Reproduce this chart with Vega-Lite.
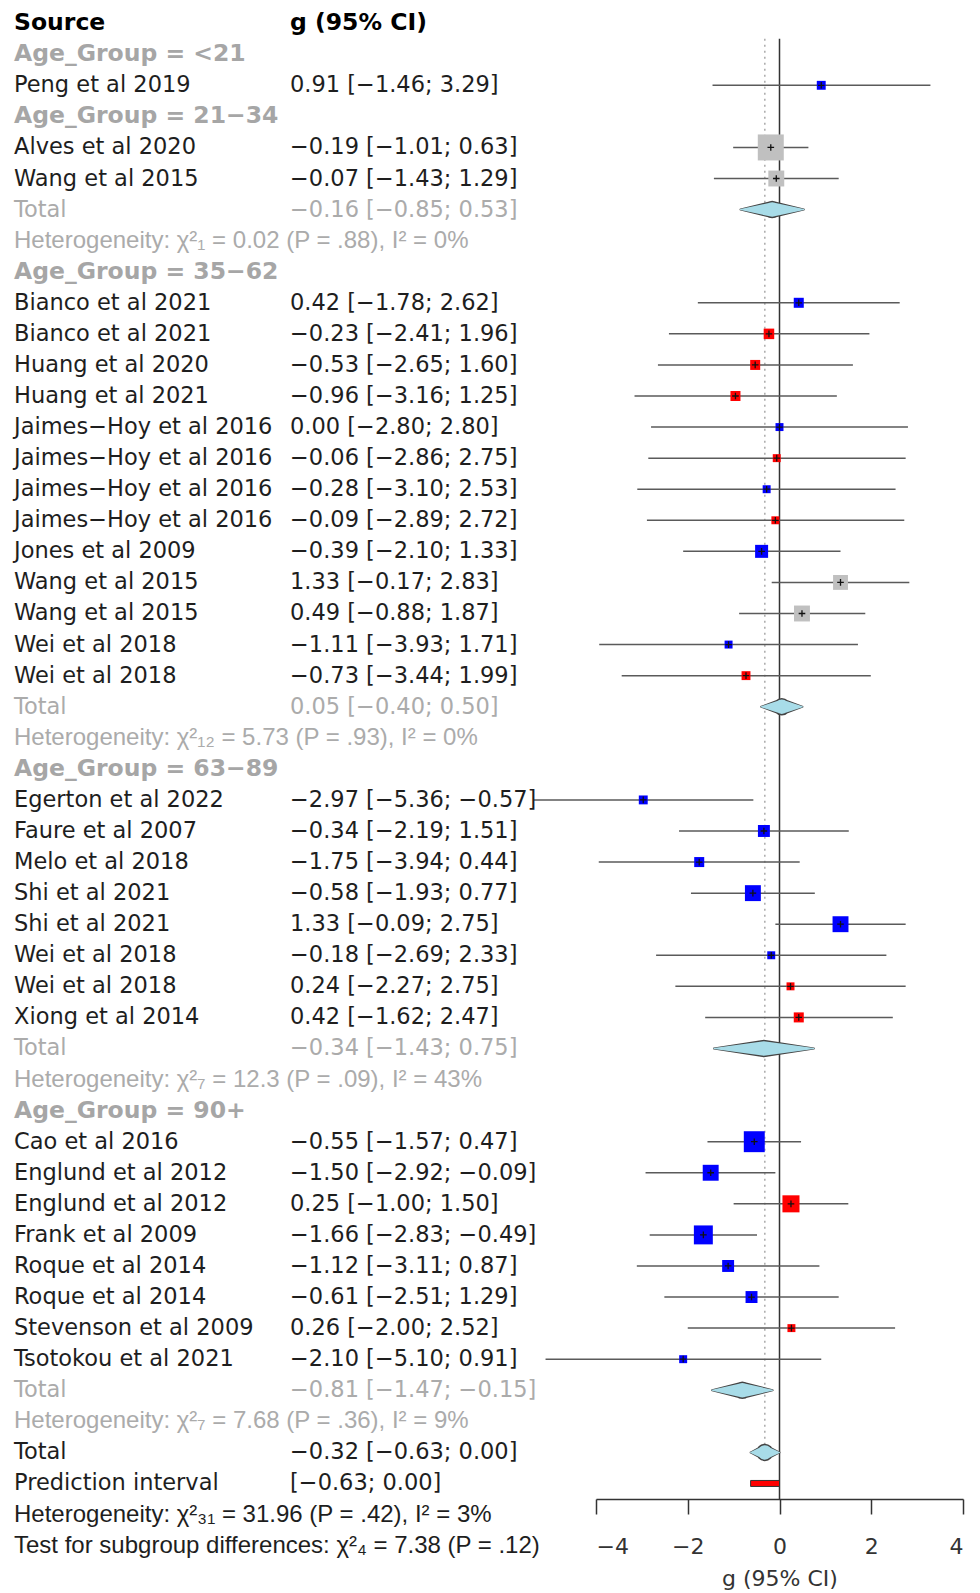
{
  "$schema": "https://vega.github.io/schema/vega-lite/v6.json",
  "autosize": {"type": "none"},
  "padding": {"left": 596, "top": 38.7, "right": 17, "bottom": 94},
  "width": 367,
  "height": 1460.3,
  "background": "white",
  "config": {"view": {"stroke": null}, "font": "DejaVu Sans"},
  "data": {"values": [
    {"row": 0, "name": "Source", "ci": "g (95% CI)", "kind": "head"},
    {"row": 1, "name": "Age_Group = <21", "ci": "", "kind": "group"},
    {"row": 2, "name": "Peng et al 2019", "ci": "0.91 [−1.46; 3.29]", "kind": "study", "est": 0.91, "lo": -1.46, "hi": 3.29, "w": 1.5, "set": "a"},
    {"row": 3, "name": "Age_Group = 21−34", "ci": "", "kind": "group"},
    {"row": 4, "name": "Alves et al 2020", "ci": "−0.19 [−1.01; 0.63]", "kind": "study", "est": -0.19, "lo": -1.01, "hi": 0.63, "w": 12.8, "set": "c"},
    {"row": 5, "name": "Wang et al 2015", "ci": "−0.07 [−1.43; 1.29]", "kind": "study", "est": -0.07, "lo": -1.43, "hi": 1.29, "w": 4.8, "set": "c"},
    {"row": 6, "name": "Total", "ci": "−0.16 [−0.85; 0.53]", "kind": "sub", "est": -0.16, "lo": -0.85, "hi": 0.53},
    {"row": 7, "name": "Heterogeneity: χ²₁ = 0.02 (P = .88), I² = 0%", "ci": "", "kind": "het"},
    {"row": 8, "name": "Age_Group = 35−62", "ci": "", "kind": "group"},
    {"row": 9, "name": "Bianco et al 2021", "ci": "0.42 [−1.78; 2.62]", "kind": "study", "est": 0.42, "lo": -1.78, "hi": 2.62, "w": 1.9, "set": "a"},
    {"row": 10, "name": "Bianco et al 2021", "ci": "−0.23 [−2.41; 1.96]", "kind": "study", "est": -0.23, "lo": -2.41, "hi": 1.96, "w": 2.1, "set": "b"},
    {"row": 11, "name": "Huang et al 2020", "ci": "−0.53 [−2.65; 1.60]", "kind": "study", "est": -0.53, "lo": -2.65, "hi": 1.6, "w": 1.9, "set": "b"},
    {"row": 12, "name": "Huang et al 2021", "ci": "−0.96 [−3.16; 1.25]", "kind": "study", "est": -0.96, "lo": -3.16, "hi": 1.25, "w": 1.9, "set": "b"},
    {"row": 13, "name": "Jaimes−Hoy et al 2016", "ci": "0.00 [−2.80; 2.80]", "kind": "study", "est": 0.0, "lo": -2.8, "hi": 2.8, "w": 1.2, "set": "a"},
    {"row": 14, "name": "Jaimes−Hoy et al 2016", "ci": "−0.06 [−2.86; 2.75]", "kind": "study", "est": -0.06, "lo": -2.86, "hi": 2.75, "w": 1.2, "set": "b"},
    {"row": 15, "name": "Jaimes−Hoy et al 2016", "ci": "−0.28 [−3.10; 2.53]", "kind": "study", "est": -0.28, "lo": -3.1, "hi": 2.53, "w": 1.2, "set": "a"},
    {"row": 16, "name": "Jaimes−Hoy et al 2016", "ci": "−0.09 [−2.89; 2.72]", "kind": "study", "est": -0.09, "lo": -2.89, "hi": 2.72, "w": 1.2, "set": "b"},
    {"row": 17, "name": "Jones et al 2009", "ci": "−0.39 [−2.10; 1.33]", "kind": "study", "est": -0.39, "lo": -2.1, "hi": 1.33, "w": 3.2, "set": "a"},
    {"row": 18, "name": "Wang et al 2015", "ci": "1.33 [−0.17; 2.83]", "kind": "study", "est": 1.33, "lo": -0.17, "hi": 2.83, "w": 4.2, "set": "c"},
    {"row": 19, "name": "Wang et al 2015", "ci": "0.49 [−0.88; 1.87]", "kind": "study", "est": 0.49, "lo": -0.88, "hi": 1.87, "w": 4.8, "set": "c"},
    {"row": 20, "name": "Wei et al 2018", "ci": "−1.11 [−3.93; 1.71]", "kind": "study", "est": -1.11, "lo": -3.93, "hi": 1.71, "w": 1.2, "set": "a"},
    {"row": 21, "name": "Wei et al 2018", "ci": "−0.73 [−3.44; 1.99]", "kind": "study", "est": -0.73, "lo": -3.44, "hi": 1.99, "w": 1.5, "set": "b"},
    {"row": 22, "name": "Total", "ci": "0.05 [−0.40; 0.50]", "kind": "sub", "est": 0.05, "lo": -0.4, "hi": 0.5},
    {"row": 23, "name": "Heterogeneity: χ²₁₂ = 5.73 (P = .93), I² = 0%", "ci": "", "kind": "het"},
    {"row": 24, "name": "Age_Group = 63−89", "ci": "", "kind": "group"},
    {"row": 25, "name": "Egerton et al 2022", "ci": "−2.97 [−5.36; −0.57]", "kind": "study", "est": -2.97, "lo": -5.36, "hi": -0.57, "w": 1.5, "set": "a"},
    {"row": 26, "name": "Faure et al 2007", "ci": "−0.34 [−2.19; 1.51]", "kind": "study", "est": -0.34, "lo": -2.19, "hi": 1.51, "w": 2.7, "set": "a"},
    {"row": 27, "name": "Melo et al 2018", "ci": "−1.75 [−3.94; 0.44]", "kind": "study", "est": -1.75, "lo": -3.94, "hi": 0.44, "w": 1.9, "set": "a"},
    {"row": 28, "name": "Shi et al 2021", "ci": "−0.58 [−1.93; 0.77]", "kind": "study", "est": -0.58, "lo": -1.93, "hi": 0.77, "w": 4.8, "set": "a"},
    {"row": 29, "name": "Shi et al 2021", "ci": "1.33 [−0.09; 2.75]", "kind": "study", "est": 1.33, "lo": -0.09, "hi": 2.75, "w": 4.8, "set": "a"},
    {"row": 30, "name": "Wei et al 2018", "ci": "−0.18 [−2.69; 2.33]", "kind": "study", "est": -0.18, "lo": -2.69, "hi": 2.33, "w": 1.2, "set": "a"},
    {"row": 31, "name": "Wei et al 2018", "ci": "0.24 [−2.27; 2.75]", "kind": "study", "est": 0.24, "lo": -2.27, "hi": 2.75, "w": 1.2, "set": "b"},
    {"row": 32, "name": "Xiong et al 2014", "ci": "0.42 [−1.62; 2.47]", "kind": "study", "est": 0.42, "lo": -1.62, "hi": 2.47, "w": 1.9, "set": "b"},
    {"row": 33, "name": "Total", "ci": "−0.34 [−1.43; 0.75]", "kind": "sub", "est": -0.34, "lo": -1.43, "hi": 0.75},
    {"row": 34, "name": "Heterogeneity: χ²₇ = 12.3 (P = .09), I² = 43%", "ci": "", "kind": "het"},
    {"row": 35, "name": "Age_Group = 90+", "ci": "", "kind": "group"},
    {"row": 36, "name": "Cao et al 2016", "ci": "−0.55 [−1.57; 0.47]", "kind": "study", "est": -0.55, "lo": -1.57, "hi": 0.47, "w": 8.3, "set": "a"},
    {"row": 37, "name": "Englund et al 2012", "ci": "−1.50 [−2.92; −0.09]", "kind": "study", "est": -1.5, "lo": -2.92, "hi": -0.09, "w": 4.8, "set": "a"},
    {"row": 38, "name": "Englund et al 2012", "ci": "0.25 [−1.00; 1.50]", "kind": "study", "est": 0.25, "lo": -1.0, "hi": 1.5, "w": 5.5, "set": "b"},
    {"row": 39, "name": "Frank et al 2009", "ci": "−1.66 [−2.83; −0.49]", "kind": "study", "est": -1.66, "lo": -2.83, "hi": -0.49, "w": 6.8, "set": "a"},
    {"row": 40, "name": "Roque et al 2014", "ci": "−1.12 [−3.11; 0.87]", "kind": "study", "est": -1.12, "lo": -3.11, "hi": 0.87, "w": 2.7, "set": "a"},
    {"row": 41, "name": "Roque et al 2014", "ci": "−0.61 [−2.51; 1.29]", "kind": "study", "est": -0.61, "lo": -2.51, "hi": 1.29, "w": 2.7, "set": "a"},
    {"row": 42, "name": "Stevenson et al 2009", "ci": "0.26 [−2.00; 2.52]", "kind": "study", "est": 0.26, "lo": -2.0, "hi": 2.52, "w": 1.2, "set": "b"},
    {"row": 43, "name": "Tsotokou et al 2021", "ci": "−2.10 [−5.10; 0.91]", "kind": "study", "est": -2.1, "lo": -5.1, "hi": 0.91, "w": 1.2, "set": "a"},
    {"row": 44, "name": "Total", "ci": "−0.81 [−1.47; −0.15]", "kind": "sub", "est": -0.81, "lo": -1.47, "hi": -0.15},
    {"row": 45, "name": "Heterogeneity: χ²₇ = 7.68 (P = .36), I² = 9%", "ci": "", "kind": "het"},
    {"row": 46, "name": "Total", "ci": "−0.32 [−0.63; 0.00]", "kind": "total", "est": -0.32, "lo": -0.63, "hi": 0.0},
    {"row": 47, "name": "Prediction interval", "ci": "\u00a0[−0.63; 0.00]", "kind": "pi", "lo": -0.63, "hi": 0.0},
    {"row": 48, "name": "Heterogeneity: χ²₃₁ = 31.96 (P = .42), I² = 3%", "ci": "", "kind": "ohet"},
    {"row": 49, "name": "Test for subgroup differences: χ²₄ = 7.38 (P = .12)", "ci": "", "kind": "ohet"}
  ]},
  "layer": [
    {
      "layer": [
        {
          "transform": [{"filter": "datum.kind == 'total'"}],
          "mark": {"type": "rule", "color": "#333333", "strokeWidth": 1.5},
          "encoding": {
            "x": {"datum": 0, "type": "quantitative", "title": "g (95% CI)",
              "scale": {"domain": [-4, 4], "nice": false, "zero": false, "padding": 0},
              "axis": {"values": [-4, -2, 0, 2, 4], "grid": false, "domainColor": "#333333", "domainWidth": 1.5,
                "tickColor": "#333333", "tickWidth": 1.5, "tickSize": 15, "labelFontSize": 22, "labelColor": "#333333",
                "labelPadding": 22, "labelFont": "DejaVu Sans", "titleFont": "DejaVu Sans", "titleFontSize": 22,
                "titleFontWeight": "normal", "titleColor": "#333333", "titleY": 86, "titleBaseline": "alphabetic"}},
            "y": {"datum": 0.5, "type": "quantitative", "scale": {"domain": [0.5, 47.5], "reverse": true, "nice": false, "zero": false, "padding": 0}, "axis": null},
            "y2": {"datum": 47.5}
          }
        },
        {
          "transform": [{"filter": "datum.kind == 'total'"}],
          "mark": {"type": "rule", "color": "#aaaaaa", "strokeWidth": 1.5, "strokeDash": [2, 4]},
          "encoding": {
            "x": {"field": "est", "type": "quantitative", "title": "g (95% CI)"},
            "y": {"datum": 0.5, "type": "quantitative"},
            "y2": {"datum": 45.75}
          }
        },
        {
          "transform": [{"filter": "datum.kind == 'study'"}],
          "mark": {"type": "rule", "color": "#5a5a5a", "strokeWidth": 1.5},
          "encoding": {
            "x": {"field": "lo", "type": "quantitative", "title": "g (95% CI)"},
            "x2": {"field": "hi"},
            "y": {"field": "row", "type": "quantitative"}
          }
        },
        {
          "transform": [{"filter": "datum.kind == 'study'"}],
          "mark": {"type": "point", "shape": "square", "filled": true, "opacity": 1},
          "encoding": {
            "x": {"field": "est", "type": "quantitative", "title": "g (95% CI)"},
            "y": {"field": "row", "type": "quantitative"},
            "size": {"field": "w", "type": "quantitative", "legend": null, "scale": {"type": "linear", "zero": true, "domain": [0, 12.8], "range": [0, 676]}},
            "color": {"field": "set", "type": "nominal", "legend": null, "scale": {"domain": ["a", "b", "c"], "range": ["#0000ff", "#ff0000", "#c0c0c0"]}}
          }
        },
        {
          "transform": [{"filter": "datum.kind == 'study'"}],
          "mark": {"type": "point", "shape": "M-1,0L1,0M0,-1L0,1", "filled": false, "stroke": "#111111", "strokeWidth": 1.3, "size": 44, "opacity": 1},
          "encoding": {
            "x": {"field": "est", "type": "quantitative", "title": "g (95% CI)"},
            "y": {"field": "row", "type": "quantitative"}
          }
        },
        {
          "transform": [{"filter": {"field": "kind", "oneOf": ["sub", "total"]}}, {"fold": ["lo", "est", "hi"], "as": ["key", "value"]}],
          "mark": {"type": "trail", "color": "#444444", "opacity": 1},
          "encoding": {
            "x": {"field": "value", "type": "quantitative", "title": "g (95% CI)"},
            "y": {"field": "row", "type": "quantitative"},
            "detail": {"field": "row", "type": "nominal"},
            "size": {"field": "key", "type": "ordinal", "legend": null, "scale": {"type": "ordinal", "domain": ["lo", "est", "hi"], "range": [2, 17.5, 2]}}
          }
        },
        {
          "transform": [{"filter": {"field": "kind", "oneOf": ["sub", "total"]}}, {"fold": ["lo", "est", "hi"], "as": ["key", "value"]}],
          "mark": {"type": "trail", "color": "#a8dce8", "opacity": 1},
          "encoding": {
            "x": {"field": "value", "type": "quantitative", "title": "g (95% CI)"},
            "y": {"field": "row", "type": "quantitative"},
            "detail": {"field": "row", "type": "nominal"},
            "size": {"field": "key", "type": "ordinal", "legend": null, "scale": {"type": "ordinal", "domain": ["lo", "est", "hi"], "range": [0, 14.5, 0]}}
          }
        },
        {
          "transform": [{"filter": "datum.kind == 'pi'"}],
          "mark": {"type": "bar", "orient": "horizontal", "color": "#ff0000", "stroke": "#333333", "strokeWidth": 1, "height": 6},
          "encoding": {
            "x": {"field": "lo", "type": "quantitative", "title": "g (95% CI)"},
            "x2": {"field": "hi"},
            "y": {"field": "row", "type": "quantitative"}
          }
        }
      ],
      "resolve": {"scale": {"size": "independent"}}
    },
    {
      "layer": [
        {
          "transform": [{"filter": {"field": "kind", "oneOf": ["study", "sub", "total", "pi"]}}],
          "mark": {"type": "text", "align": "left", "baseline": "middle", "fontSize": 22.5, "font": "DejaVu Sans"},
          "encoding": {
            "x": {"datum": "name", "type": "nominal", "axis": null, "scale": {"type": "point", "domain": ["name", "ci"], "range": [-582, -306], "padding": 0}},
            "y": {"field": "row", "type": "quantitative"},
            "text": {"field": "name"},
            "color": {"field": "kind", "type": "nominal", "legend": null,
              "scale": {"domain": ["head", "group", "study", "sub", "het", "total", "pi", "ohet"],
                "range": ["#000000", "#a6a6a6", "#1e1e1e", "#ababab", "#ababab", "#1e1e1e", "#1e1e1e", "#1e1e1e"]}}
          }
        },
        {
          "transform": [{"filter": {"field": "kind", "oneOf": ["study", "sub", "total", "pi"]}}],
          "mark": {"type": "text", "align": "left", "baseline": "middle", "fontSize": 22.5, "font": "DejaVu Sans"},
          "encoding": {
            "x": {"datum": "ci", "type": "nominal", "axis": null},
            "y": {"field": "row", "type": "quantitative"},
            "text": {"field": "ci"},
            "color": {"field": "kind", "type": "nominal", "legend": null}
          }
        },
        {
          "transform": [{"filter": {"field": "kind", "oneOf": ["het", "ohet"]}}],
          "mark": {"type": "text", "align": "left", "baseline": "middle", "fontSize": 24, "font": "Liberation Sans"},
          "encoding": {
            "x": {"datum": "name", "type": "nominal", "axis": null},
            "y": {"field": "row", "type": "quantitative"},
            "text": {"field": "name"},
            "color": {"field": "kind", "type": "nominal", "legend": null}
          }
        },
        {
          "transform": [{"filter": {"field": "kind", "oneOf": ["head", "group"]}}],
          "mark": {"type": "text", "align": "left", "baseline": "middle", "fontSize": 23.5, "font": "DejaVu Sans", "fontWeight": "bold"},
          "encoding": {
            "x": {"datum": "name", "type": "nominal", "axis": null},
            "y": {"field": "row", "type": "quantitative"},
            "text": {"field": "name"},
            "color": {"field": "kind", "type": "nominal", "legend": null}
          }
        },
        {
          "transform": [{"filter": "datum.kind == 'head'"}],
          "mark": {"type": "text", "align": "left", "baseline": "middle", "fontSize": 23.5, "font": "DejaVu Sans", "fontWeight": "bold"},
          "encoding": {
            "x": {"datum": "ci", "type": "nominal", "axis": null},
            "y": {"field": "row", "type": "quantitative"},
            "text": {"field": "ci"},
            "color": {"field": "kind", "type": "nominal", "legend": null}
          }
        }
      ]
    }
  ],
  "resolve": {"scale": {"x": "independent", "color": "independent"}}
}
